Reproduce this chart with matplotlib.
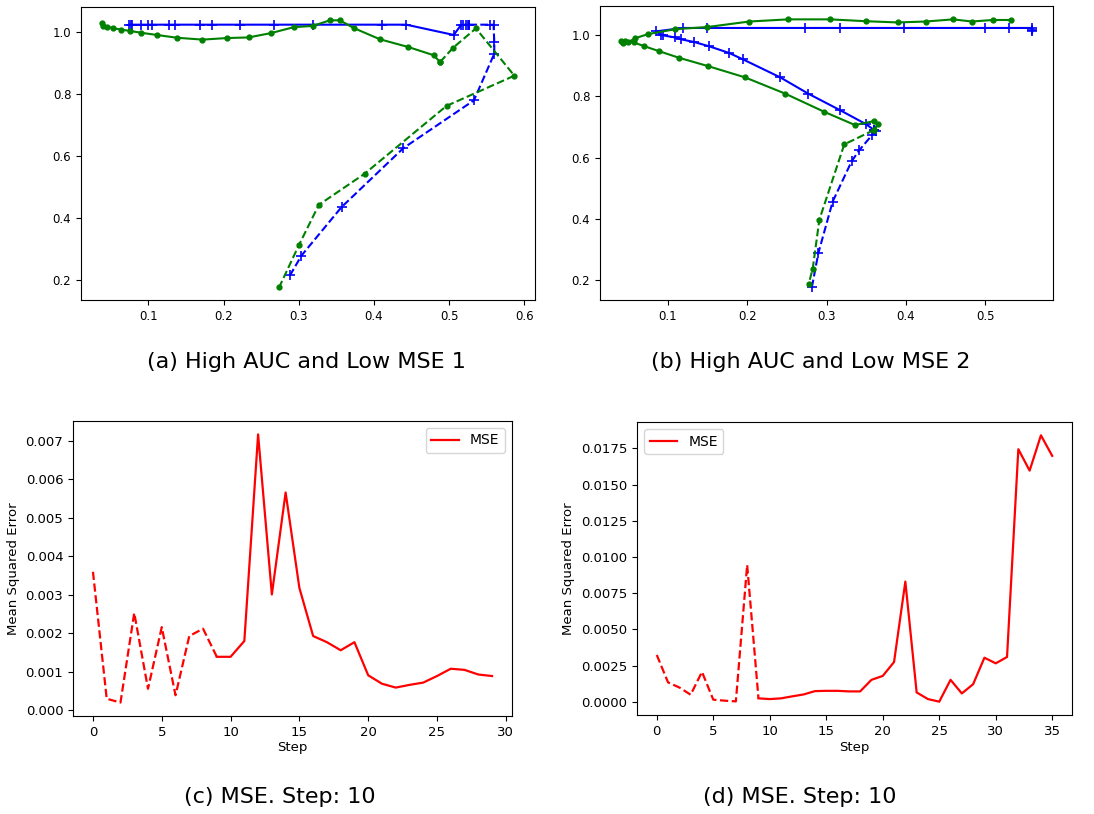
import matplotlib
matplotlib.use("Agg")
import matplotlib.pyplot as plt

# ---------------- data ----------------
# (a) High AUC and Low MSE 1
a_blue_solid_x = [0.0747, 0.0765, 0.0787, 0.0899, 0.100, 0.1045, 0.127, 0.1356, 0.1688, 0.1844,
                  0.222, 0.2674, 0.3184, 0.4108, 0.443, 0.506, 0.5156, 0.519, 0.522, 0.5245, 0.5267]
a_blue_solid_y = [1.022, 1.022, 1.022, 1.022, 1.022, 1.022, 1.022, 1.022, 1.022, 1.022,
                  1.022, 1.022, 1.022, 1.022, 1.022, 0.989, 1.020, 1.022, 1.022, 1.022, 1.022]
a_blue_dash_x = [0.5267, 0.554, 0.559, 0.560, 0.560, 0.533, 0.439, 0.357, 0.3036, 0.289]
a_blue_dash_y = [1.022, 1.022, 1.022, 0.966, 0.929, 0.779, 0.625, 0.436, 0.280, 0.219]
a_green_solid_x = [0.0379, 0.040, 0.0445, 0.0533, 0.0636, 0.0756, 0.0903, 0.1112, 0.1379, 0.172,
                   0.2045, 0.2333, 0.2632, 0.2933, 0.3187, 0.3413, 0.3547, 0.3733, 0.408, 0.4459,
                   0.4792, 0.488]
a_green_solid_y = [1.027, 1.019, 1.016, 1.011, 1.006, 1.002, 0.996, 0.989, 0.980, 0.974,
                   0.979, 0.981, 0.995, 1.014, 1.018, 1.036, 1.036, 1.011, 0.975, 0.950,
                   0.924, 0.902]
a_green_dash_x = [0.488, 0.5053, 0.5356, 0.5867, 0.4965, 0.3876, 0.3267, 0.3005, 0.2743]
a_green_dash_y = [0.902, 0.948, 1.010, 0.858, 0.761, 0.543, 0.443, 0.315, 0.180]

# (b) High AUC and Low MSE 2
b_blue_solid_x = [0.5597, 0.5597, 0.5597, 0.5302, 0.500, 0.398, 0.3174, 0.2733, 0.1495, 0.1189,
                  0.0853, 0.0907, 0.0937, 0.1092, 0.1167, 0.1335, 0.1524, 0.1768, 0.1945, 0.2418,
                  0.2771, 0.3174, 0.3497, 0.360]
b_blue_solid_y = [1.011, 1.016, 1.022, 1.022, 1.022, 1.022, 1.022, 1.022, 1.022, 1.022,
                  1.011, 1.000, 0.998, 0.991, 0.985, 0.976, 0.962, 0.941, 0.920, 0.861,
                  0.808, 0.754, 0.709, 0.690]
b_blue_dash_x = [0.360, 0.362, 0.357, 0.3413, 0.3317, 0.3078, 0.2897, 0.2817]
b_blue_dash_y = [0.690, 0.686, 0.672, 0.624, 0.588, 0.457, 0.289, 0.180]
b_green_solid_x = [0.5324, 0.510, 0.4833, 0.4597, 0.4253, 0.3897, 0.3497, 0.3044, 0.2519, 0.2028,
                   0.1495, 0.1092, 0.0748, 0.058, 0.0496, 0.0462, 0.0433, 0.0403, 0.0567, 0.0698,
                   0.0882, 0.1139, 0.1504, 0.1974, 0.2481, 0.2972, 0.3359, 0.360, 0.3645, 0.360]
b_green_solid_y = [1.048, 1.048, 1.043, 1.050, 1.043, 1.040, 1.044, 1.050, 1.050, 1.043,
                   1.025, 1.018, 1.002, 0.988, 0.975, 0.980, 0.973, 0.978, 0.975, 0.963,
                   0.947, 0.925, 0.898, 0.861, 0.808, 0.749, 0.706, 0.719, 0.708, 0.690]
b_green_dash_x = [0.360, 0.3224, 0.291, 0.2826, 0.2776]
b_green_dash_y = [0.690, 0.643, 0.398, 0.238, 0.190]

# (c) MSE, 30 steps
c_steps = list(range(30))
c_mse = [0.00360, 0.00030, 0.00020, 0.00253, 0.00056, 0.00216, 0.00039, 0.00193, 0.00212, 0.00139,
         0.00139, 0.00180, 0.00717, 0.00301, 0.00566, 0.00318, 0.00193, 0.00177, 0.00156, 0.00177,
         0.00091, 0.00069, 0.00059, 0.00066, 0.00072, 0.00089, 0.00108, 0.00105, 0.00093, 0.00089]

# (d) MSE, 36 steps
d_steps = list(range(36))
d_mse = [0.00323, 0.00133, 0.00098, 0.00048, 0.00206, 0.00014, 0.00007, 0.00002, 0.00945, 0.00023,
         0.00018, 0.00023, 0.00037, 0.00050, 0.00073, 0.00075, 0.00075, 0.00071, 0.00071, 0.00151,
         0.00178, 0.00274, 0.00830, 0.00064, 0.00018, 0.00000, 0.00151, 0.00057, 0.00121, 0.00304,
         0.00265, 0.00309, 0.01745, 0.01597, 0.01841, 0.01699]

split = 10  # dashed for the first steps

captions = ["(a) High AUC and Low MSE 1", "(b) High AUC and Low MSE 2",
            "(c) MSE. Step: 10", "(d) MSE. Step: 10"]

# ---------------- figure ----------------
fig = plt.figure(figsize=(10.94, 8.14), dpi=100)
W, H = 1094, 814

def add_ax(l, r, t, b):
    return fig.add_axes([l / W, 1 - b / H, (r - l) / W, (b - t) / H])

ax_a = add_ax(81, 535, 7, 300)
ax_b = add_ax(600, 1053, 6, 300)
ax_c = add_ax(73, 512, 421, 716)
ax_d = add_ax(637, 1072, 422, 715)

lw = 1.5
for ax, (bsx, bsy, bdx, bdy, gsx, gsy, gdx, gdy) in [
        (ax_a, (a_blue_solid_x, a_blue_solid_y, a_blue_dash_x, a_blue_dash_y,
                a_green_solid_x, a_green_solid_y, a_green_dash_x, a_green_dash_y)),
        (ax_b, (b_blue_solid_x, b_blue_solid_y, b_blue_dash_x, b_blue_dash_y,
                b_green_solid_x, b_green_solid_y, b_green_dash_x, b_green_dash_y))]:
    ax.plot(bsx, bsy, color='blue', ls='-', marker='+', ms=7, mew=1.2, lw=lw)
    ax.plot(bdx, bdy, color='blue', ls='--', marker='+', ms=7, mew=1.2, lw=lw)
    ax.plot(gsx, gsy, color='green', ls='-', marker='o', ms=3.5, lw=lw)
    ax.plot(gdx, gdy, color='green', ls='--', marker='o', ms=3.5, lw=lw)
    ax.set_yticks([0.2, 0.4, 0.6, 0.8, 1.0])
    ax.tick_params(labelsize=8.5)

for ax, steps, mse, loc in [(ax_c, c_steps, c_mse, 'upper right'),
                            (ax_d, d_steps, d_mse, 'upper left')]:
    ax.plot(steps[:split], mse[:split], color='red', ls='--', lw=1.6)
    ax.plot(steps[split - 1:], mse[split - 1:], color='red', ls='-', lw=1.6, label='MSE')
    ax.set_xlabel('Step', fontsize=9.5, labelpad=2)
    ax.set_ylabel('Mean Squared Error', fontsize=9.5)
    ax.tick_params(labelsize=9.5)
    ax.legend(loc=loc, fontsize=10)

ax_c.set_yticks([0.000, 0.001, 0.002, 0.003, 0.004, 0.005, 0.006, 0.007])
ax_c.set_xticks([0, 5, 10, 15, 20, 25, 30])
ax_d.set_yticks([0.0, 0.0025, 0.005, 0.0075, 0.01, 0.0125, 0.015, 0.0175])
ax_d.set_yticklabels(['0.0000', '0.0025', '0.0050', '0.0075', '0.0100', '0.0125', '0.0150', '0.0175'])
ax_d.set_xticks([0, 5, 10, 15, 20, 25, 30, 35])

for txt, (cx, cy) in zip(captions, [(306, 362), (811, 362), (280, 797), (800, 797)]):
    fig.text(cx / W, 1 - cy / H, txt, ha='center', va='center', fontsize=16, family='DejaVu Sans')

fig.savefig('out.png', dpi=100)
